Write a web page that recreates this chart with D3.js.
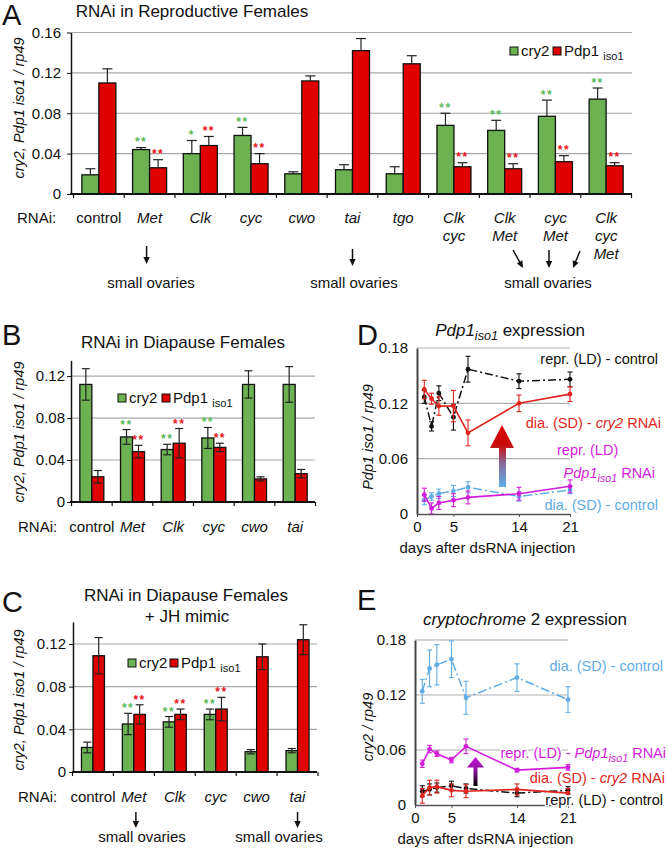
<!DOCTYPE html>
<html><head><meta charset="utf-8">
<script src="https://cdn.jsdelivr.net/npm/d3@7"></script>
<style>body{margin:0;background:#fff;} svg{display:block;}</style>
</head><body><svg id="c" width="668" height="848"></svg>
<script>
// ---------- DATA ----------
const catsA = [["control"],["Met"],["Clk"],["cyc"],["cwo"],["tai"],["tgo"],["Clk","cyc"],["Clk","Met"],["cyc","Met"],["Clk","cyc","Met"]];
const cry2A    = [0.019,0.044,0.040,0.058,0.020,0.024,0.020,0.068,0.063,0.077,0.094];
const cry2ErrA = [0.006,0.002,0.013,0.008,0.002,0.005,0.007,0.012,0.010,0.016,0.011];
const pdpA     = [0.110,0.026,0.048,0.030,0.112,0.142,0.129,0.027,0.025,0.032,0.028];
const pdpErrA  = [0.014,0.008,0.009,0.010,0.005,0.012,0.008,0.004,0.005,0.006,0.003];
const starsCryA = ["","**","*","**","","","","**","**","**","**"];
const starsPdpA = ["","**","**","**","","","","**","**","**","**"];
const ticksA = [0,0.04,0.08,0.12,0.16];

const catsB = [["control"],["Met"],["Clk"],["cyc"],["cwo"],["tai"]];
const cry2B    = [0.112,0.062,0.050,0.061,0.112,0.112];
const cry2ErrB = [0.015,0.007,0.005,0.010,0.013,0.017];
const pdpB     = [0.024,0.048,0.056,0.052,0.022,0.027];
const pdpErrB  = [0.006,0.006,0.014,0.004,0.002,0.004];
const starsCryB = ["","**","**","**","",""];
const starsPdpB = ["","**","**","**","",""];
const ticksB = [0,0.04,0.08,0.12];

const catsC = [["control"],["Met"],["Clk"],["cyc"],["cwo"],["tai"]];
const cry2C    = [0.023,0.045,0.047,0.054,0.019,0.020];
const cry2ErrC = [0.005,0.010,0.005,0.005,0.002,0.002];
const pdpC     = [0.109,0.054,0.054,0.059,0.108,0.124];
const pdpErrC  = [0.017,0.009,0.005,0.011,0.012,0.014];
const starsCryC = ["","**","**","**","",""];
const starsPdpC = ["","**","**","**","",""];
const ticksC = [0,0.04,0.08,0.12];

const days = [1,2,3,5,7,14,21];
const dayTicks = [0,5,14,21];
const lineTicks = [0,0.06,0.12,0.18];
// D: Pdp1iso1 expression
const D_reprCtrl = [0.127,0.095,0.131,0.105,0.157,0.144,0.146];
const D_reprCtrlErr = [0.007,0.005,0.008,0.014,0.014,0.008,0.008];
const D_diaCry2 = [0.135,0.125,0.117,0.117,0.088,0.120,0.130];
const D_diaCry2Err = [0.010,0.006,0.010,0.017,0.014,0.009,0.008];
const D_reprPdp = [0.021,0.006,0.012,0.015,0.018,0.022,0.030];
const D_reprPdpErr = [0.007,0.006,0.007,0.007,0.007,0.007,0.007];
const D_diaCtrl = [0.015,0.019,0.022,0.025,0.029,0.019,0.026];
const D_diaCtrlErr = [0.005,0.004,0.005,0.006,0.006,0.005,0.004];
// E: cry2 expression
const E_diaCtrl = [0.124,0.149,0.153,0.159,0.117,0.139,0.115];
const E_diaCtrlErr = [0.013,0.020,0.022,0.020,0.018,0.015,0.014];
const E_reprPdp = [0.045,0.061,0.056,0.049,0.064,0.038,0.041];
const E_reprPdpErr = [0.004,0.004,0.003,0.003,0.008,0.002,0.003];
const E_diaCry2 = [0.010,0.019,0.020,0.016,0.015,0.017,0.013];
const E_diaCry2Err = [0.008,0.008,0.007,0.007,0.007,0.006,0.005];
const E_reprCtrl = [0.015,0.017,0.019,0.021,0.018,0.013,0.016];
const E_reprCtrlErr = [0.006,0.006,0.005,0.005,0.005,0.004,0.004];

// ---------- STYLE ----------
const FONT = "'Liberation Sans', Arial, Helvetica, sans-serif";
const GREEN="#6cb152", RED="#e00000", SG="#5cb85c", SR="#e8141b";
const BLUE="#62ace4", MAG="#d21ddb", LRED="#e0261e", BLK="#111";

const svg = d3.select("#c").attr("font-family", FONT);

function rich(g, x, y, parts, o={}) {
  const size = o.size || 15;
  const t = g.append("text").attr("x", x).attr("y", y)
    .attr("text-anchor", o.anchor || "start").attr("font-size", size)
    .attr("fill", o.fill || BLK);
  if (o.transform) t.attr("transform", o.transform);
  if (o.halo) t.attr("stroke", "#fff").attr("stroke-width", 3).attr("paint-order", "stroke").attr("stroke-linejoin","round");
  let shift = 0;
  parts.forEach(p => {
    const ts = t.append("tspan").text(p.t);
    if (p.i) ts.attr("font-style", "italic");
    if (p.sub) {
      ts.attr("font-size", size * 0.74).attr("dy", 4 - shift); shift = 4;
    } else if (shift) { ts.attr("dy", -shift); shift = 0; }
  });
  return t;
}
const fmt = d => d === 0 ? "0" : d.toFixed(2);

// ---------- BAR PANELS ----------
function barPanel(o) {
  const g = svg.append("g");
  const n = o.cats.length;
  const x = d3.scaleBand().domain(d3.range(n)).range(o.xr);
  const y = d3.scaleLinear().domain([0, o.yMax]).range(o.yr);
  g.selectAll(null).data(o.ticks.filter(t => t > 0)).join("line")
    .attr("x1", o.axisX).attr("x2", o.gridEnd)
    .attr("y1", d => y(d)).attr("y2", d => y(d))
    .attr("stroke", "#a8a8a8").attr("stroke-width", 1.2);
  const series = [
    {v: o.cry, e: o.cryErr, fill: GREEN, off: -o.barW, stars: o.starsC, sc: SG},
    {v: o.pdp, e: o.pdpErr, fill: RED, off: 0, stars: o.starsP, sc: SR}
  ];
  series.forEach(s => {
    const cx = i => x(i) + x.bandwidth() / 2 + s.off;
    g.selectAll(null).data(s.v).join("rect")
      .attr("x", (d, i) => cx(i)).attr("width", o.barW)
      .attr("y", d => y(d)).attr("height", d => y(0) - y(d))
      .attr("fill", s.fill).attr("stroke", "#111").attr("stroke-width", 1.3);
    const mid = i => cx(i) + o.barW / 2;
    const eg = g.append("g").attr("stroke", "#222").attr("stroke-width", 1.2);
    s.v.forEach((d, i) => {
      const top = y(d + s.e[i]), bot = o.both ? y(Math.max(0, d - s.e[i])) : y(d);
      eg.append("line").attr("x1", mid(i)).attr("x2", mid(i)).attr("y1", top).attr("y2", bot);
      eg.append("line").attr("x1", mid(i) - o.cap).attr("x2", mid(i) + o.cap).attr("y1", top).attr("y2", top);
      if (o.both) eg.append("line").attr("x1", mid(i) - o.cap).attr("x2", mid(i) + o.cap).attr("y1", bot).attr("y2", bot);
      if (s.stars[i]) {
        g.append("text").attr("x", mid(i)).attr("y", top - o.starGap).attr("text-anchor", "middle")
          .attr("font-size", 12).attr("font-weight", "bold").attr("letter-spacing", 1.5)
          .attr("fill", s.sc).text(s.stars[i]);
      }
    });
  });
  const ya = g.append("g").attr("transform", `translate(${o.axisX},0)`)
    .call(d3.axisLeft(y).tickValues(o.ticks).tickSize(4).tickSizeOuter(0).tickPadding(o.tickPad).tickFormat(fmt));
  ya.attr("font-family", FONT).attr("font-size", 15);
  ya.select(".domain").attr("stroke", "#111").attr("stroke-width", 1.5);
  ya.selectAll(".tick line").attr("stroke", "#111");
  ya.selectAll(".tick text").attr("fill", "#111");
  g.append("line").attr("x1", o.axisX - 1).attr("x2", o.gridEnd).attr("y1", y(0)).attr("y2", y(0))
    .attr("stroke", "#111").attr("stroke-width", 1.8);
  g.selectAll(null).data(d3.range(n + 1)).join("line")
    .attr("x1", i => o.xr[0] + i * x.step()).attr("x2", i => o.xr[0] + i * x.step())
    .attr("y1", y(0)).attr("y2", y(0) + 4).attr("stroke", "#111").attr("stroke-width", 1.2);
  g.append("text").attr("x", o.rnaiX).attr("y", o.labY).attr("font-size", 15).attr("fill", "#111").text("RNAi:");
  o.cats.forEach((c, i) => {
    c.forEach((line, k) => {
      g.append("text").attr("x", x(i) + x.bandwidth() / 2).attr("y", o.labY + k * 18)
        .attr("text-anchor", "middle").attr("font-size", 15).attr("fill", "#111")
        .attr("font-style", line === "control" ? "normal" : "italic").text(line);
    });
  });
  const L = o.legend;
  g.append("rect").attr("x", L.x).attr("y", L.y - 9).attr("width", 8).attr("height", 8)
    .attr("fill", GREEN).attr("stroke", "#111").attr("stroke-width", 1);
  g.append("text").attr("x", L.x + 11).attr("y", L.y).attr("font-size", 15).attr("fill", "#111").text("cry2");
  g.append("rect").attr("x", L.x2).attr("y", L.y - 9).attr("width", 8).attr("height", 8)
    .attr("fill", RED).attr("stroke", "#111").attr("stroke-width", 1);
  rich(g, L.x2 + 11, L.y, [{t: "Pdp1 "}, {t: "iso1", sub: true}], {size: 15});
  rich(g, 0, 0, [{t: "cry2, Pdp1 iso1 / rp49", i: true}],
       {size: 14.5, anchor: "middle", transform: `translate(${o.ylab[0]},${o.ylab[1]}) rotate(-90)`});
  return {x, y, g};
}

function arrow(g, x1, y1, x2, y2) {
  const a = Math.atan2(y2 - y1, x2 - x1), L = 7, W = 3.2;
  g.append("line").attr("x1", x1).attr("y1", y1)
    .attr("x2", x2 - Math.cos(a) * (L - 1)).attr("y2", y2 - Math.sin(a) * (L - 1))
    .attr("stroke", "#111").attr("stroke-width", 1.5);
  const bx = x2 - Math.cos(a) * L, by = y2 - Math.sin(a) * L;
  g.append("path").attr("d", `M${x2},${y2}L${bx - Math.sin(a) * W},${by + Math.cos(a) * W}L${bx + Math.sin(a) * W},${by - Math.cos(a) * W}Z`)
    .attr("fill", "#111");
}
function textAt(x, y, s, o={}) {
  return svg.append("text").attr("x", x).attr("y", y).attr("font-size", o.size || 15)
    .attr("text-anchor", o.anchor || "start").attr("fill", o.fill || "#111").text(s);
}

// Panel A
const A = barPanel({cats: catsA, cry: cry2A, cryErr: cry2ErrA, pdp: pdpA, pdpErr: pdpErrA,
  starsC: starsCryA, starsP: starsPdpA, ticks: ticksA, yMax: 0.16, yr: [194, 32.5],
  xr: [73.5, 631.5], axisX: 71, gridEnd: 632, barW: 17, cap: 5, both: false, starGap: 1.5, tickPad: 6,
  rnaiX: 17, labY: 223, legend: {x: 510, x2: 553, y: 56}, ylab: [24, 108]});
textAt(2, 25, "A", {size: 29});
textAt(192, 17, "RNAi in Reproductive Females", {size: 17, anchor: "middle"});
const ga = svg.append("g");
const cA = i => A.x(i) + A.x.bandwidth() / 2;
arrow(ga, cA(1) - 3, 246, cA(1) - 3, 264);
arrow(ga, cA(5), 249, cA(5), 266);
arrow(ga, 513, 250, 523, 268);
arrow(ga, 549, 250, 549, 268);
arrow(ga, 580, 251, 573, 268);
textAt(151, 288, "small ovaries", {anchor: "middle"});
textAt(354, 288, "small ovaries", {anchor: "middle"});
textAt(548, 288, "small ovaries", {anchor: "middle"});

// Panel B
barPanel({cats: catsB, cry: cry2B, cryErr: cry2ErrB, pdp: pdpB, pdpErr: pdpErrB,
  starsC: starsCryB, starsP: starsPdpB, ticks: ticksB, yMax: 0.135, yr: [502, 360.3],
  xr: [71.5, 315.5], axisX: 71, gridEnd: 315, barW: 12, cap: 4, both: true, starGap: 1, tickPad: 2,
  rnaiX: 18, labY: 532, legend: {x: 118, x2: 162, y: 403}, ylab: [24, 432]});
textAt(2, 345, "B", {size: 29});
textAt(183, 348, "RNAi in Diapause Females", {size: 17, anchor: "middle"});

// Panel C
const C = barPanel({cats: catsC, cry: cry2C, cryErr: cry2ErrC, pdp: pdpC, pdpErr: pdpErrC,
  starsC: starsCryC, starsP: starsPdpC, ticks: ticksC, yMax: 0.1406, yr: [772, 622],
  xr: [72.5, 318], axisX: 73, gridEnd: 317, barW: 11.5, cap: 4, both: true, starGap: 1, tickPad: 3,
  rnaiX: 18, labY: 802, legend: {x: 128, x2: 170, y: 668}, ylab: [24, 700]});
textAt(2, 612, "C", {size: 29});
textAt(186, 601, "RNAi in Diapause Females", {size: 17, anchor: "middle"});
textAt(187, 622, "+ JH mimic", {size: 17, anchor: "middle"});
const gc = svg.append("g");
const cC = i => C.x(i) + C.x.bandwidth() / 2;
arrow(gc, cC(1) + 2, 812, cC(1) + 2, 828);
arrow(gc, cC(5), 812, cC(5), 828);
textAt(142, 842, "small ovaries", {anchor: "middle"});
textAt(279, 842, "small ovaries", {anchor: "middle"});

// ---------- LINE PANELS ----------
function linePanel(o) {
  const g = svg.append("g");
  const x = d3.scaleLinear().domain([0, 21]).range(o.xr);
  const y = d3.scaleLinear().domain([0, 0.18]).range(o.yr);
  g.selectAll(null).data(lineTicks.filter(t => t > 0)).join("line")
    .attr("x1", o.xr[0]).attr("x2", o.xr[1]).attr("y1", d => y(d)).attr("y2", d => y(d))
    .attr("stroke", "#b0b0b0").attr("stroke-width", 1.2);
  o.series.forEach(s => {
    const pts = days.map((d, i) => [d, s.v[i], s.e[i]]);
    g.append("path").attr("d", d3.line().x(d => x(d[0])).y(d => y(d[1]))(pts))
      .attr("fill", "none").attr("stroke", s.c).attr("stroke-width", s.w || 1.6)
      .attr("stroke-dasharray", s.dash || null);
    const eg = g.append("g").attr("stroke", s.c).attr("stroke-width", 1.1);
    pts.forEach(p => {
      const px = x(p[0]), t = y(p[1] + p[2]), b = y(p[1] - p[2]);
      eg.append("line").attr("x1", px).attr("x2", px).attr("y1", t).attr("y2", b);
      eg.append("line").attr("x1", px - 2.5).attr("x2", px + 2.5).attr("y1", t).attr("y2", t);
      eg.append("line").attr("x1", px - 2.5).attr("x2", px + 2.5).attr("y1", b).attr("y2", b);
    });
    g.selectAll(null).data(pts).join("circle").attr("cx", d => x(d[0])).attr("cy", d => y(d[1]))
      .attr("r", 2.4).attr("fill", s.c);
  });
  const ya = g.append("g").attr("transform", `translate(${o.xr[0]},0)`)
    .call(d3.axisLeft(y).tickValues(lineTicks).tickSize(0).tickPadding(9).tickFormat(fmt));
  ya.attr("font-family", FONT).attr("font-size", 15);
  ya.select(".domain").attr("stroke", "#444").attr("stroke-width", 2);
  ya.selectAll(".tick text").attr("fill", "#111");
  const xa = g.append("g").attr("transform", `translate(0,${o.yr[0]})`)
    .call(d3.axisBottom(x).tickValues(dayTicks).tickSize(3).tickSizeOuter(0).tickPadding(4));
  xa.attr("font-family", FONT).attr("font-size", 15);
  xa.select(".domain").attr("stroke", "#555").attr("stroke-width", 1.5);
  xa.selectAll(".tick line").attr("stroke", "#555");
  xa.selectAll(".tick text").attr("fill", "#111");
  textAt((o.xr[0] + o.xr[1]) / 2 - 6, o.yr[0] + 39, "days after dsRNA injection", {anchor: "middle", size: 15});
  return {x, y, g};
}

// Panel D
const D = linePanel({xr: [417, 570], yr: [514, 348], series: [
  {v: D_reprCtrl, e: D_reprCtrlErr, c: BLK, dash: "8,3,2,3", w: 1.5},
  {v: D_diaCry2, e: D_diaCry2Err, c: LRED},
  {v: D_diaCtrl, e: D_diaCtrlErr, c: BLUE, dash: "9,3,2,3", w: 1.5},
  {v: D_reprPdp, e: D_reprPdpErr, c: MAG}
]});
textAt(357, 345, "D", {size: 29});
rich(svg, 510, 336, [{t: "Pdp1", i: true}, {t: "iso1", i: true, sub: true}, {t: " expression"}], {size: 17, anchor: "middle"});
rich(svg, 0, 0, [{t: "Pdp1 iso1 / rp49", i: true}], {size: 14.5, anchor: "middle", transform: "translate(373,437) rotate(-90)"});
rich(svg, 658, 364, [{t: "repr. (LD) - control"}], {size: 14.5, anchor: "end", halo: true});
rich(svg, 661, 428, [{t: "dia. (SD) - "}, {t: "cry2", i: true}, {t: " RNAi"}], {size: 14.5, anchor: "end", fill: LRED, halo: true});
rich(svg, 557, 455, [{t: "repr. (LD)"}], {size: 14.5, fill: MAG, halo: true});
rich(svg, 655, 478, [{t: "Pdp1", i: true}, {t: "iso1", i: true, sub: true}, {t: " RNAi"}], {size: 14.5, anchor: "end", fill: MAG, halo: true});
rich(svg, 658, 510, [{t: "dia. (SD) - control"}], {size: 14.5, anchor: "end", fill: BLUE, halo: true});

const defs = svg.append("defs");
const gD = defs.append("linearGradient").attr("id", "gD").attr("x1", 0).attr("y1", 0).attr("x2", 0).attr("y2", 1);
gD.append("stop").attr("offset", "0%").attr("stop-color", "#dd0000");
gD.append("stop").attr("offset", "32%").attr("stop-color", "#c80a0a");
gD.append("stop").attr("offset", "62%").attr("stop-color", "#8a6a98");
gD.append("stop").attr("offset", "100%").attr("stop-color", "#5cb0ec");
svg.append("path").attr("d", "M490,448L502,425L514,448L506,448L506,487L499,487L499,448Z").attr("fill", "url(#gD)");
const gE = defs.append("linearGradient").attr("id", "gE").attr("x1", 0).attr("y1", 0).attr("x2", 0).attr("y2", 1);
gE.append("stop").attr("offset", "0%").attr("stop-color", "#c010d8");
gE.append("stop").attr("offset", "45%").attr("stop-color", "#9010a0");
gE.append("stop").attr("offset", "100%").attr("stop-color", "#000");

// Panel E
const E = linePanel({xr: [415, 568], yr: [805, 640], series: [
  {v: E_diaCtrl, e: E_diaCtrlErr, c: BLUE, dash: "9,3,2,3", w: 1.5},
  {v: E_reprPdp, e: E_reprPdpErr, c: MAG},
  {v: E_reprCtrl, e: E_reprCtrlErr, c: BLK, dash: "8,3,2,3", w: 1.5},
  {v: E_diaCry2, e: E_diaCry2Err, c: LRED}
]});
textAt(357, 610, "E", {size: 29});
rich(svg, 525, 625, [{t: "cryptochrome", i: true}, {t: " 2 expression"}], {size: 17, anchor: "middle"});
rich(svg, 0, 0, [{t: "cry2 / rp49", i: true}], {size: 14.5, anchor: "middle", transform: "translate(373,727) rotate(-90)"});
rich(svg, 663, 671, [{t: "dia. (SD) - control"}], {size: 14.5, anchor: "end", fill: BLUE});
rich(svg, 666, 758, [{t: "repr. (LD) - "}, {t: "Pdp1", i: true}, {t: "iso1", i: true, sub: true}, {t: " RNAi"}], {size: 14.5, anchor: "end", fill: MAG, halo: true});
rich(svg, 665, 783, [{t: "dia. (SD) - "}, {t: "cry2", i: true}, {t: " RNAi"}], {size: 14.5, anchor: "end", fill: LRED, halo: true});
rich(svg, 663, 805, [{t: "repr. (LD) - control"}], {size: 14.5, anchor: "end", halo: true});
svg.append("path").attr("d", "M467,767.5L475.5,757L484,767.5L477.5,767.5L477.5,786L473.5,786L473.5,767.5Z").attr("fill", "url(#gE)");
</script>
</body></html>
